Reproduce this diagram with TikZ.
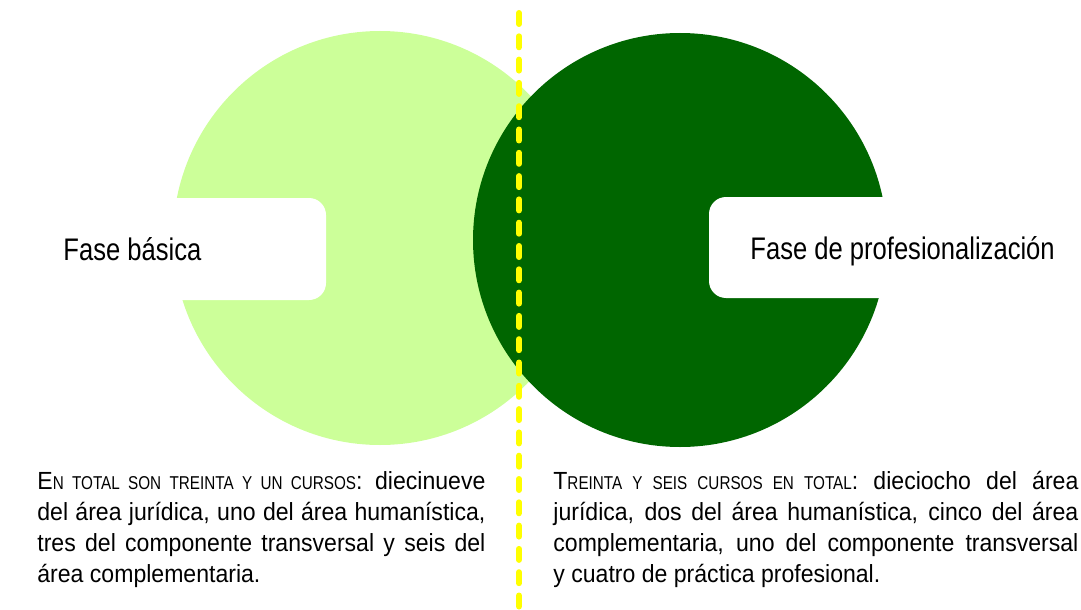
\documentclass[tikz,border=0pt]{standalone}
\usepackage{fontspec}
\setmainfont[FakeStretch=0.82]{Liberation Sans}
\newfontfamily\cuerpofont[FakeStretch=0.93]{Liberation Sans}
\usepackage{tikz}
\definecolor{verdeclaro}{HTML}{CCFF99}
\definecolor{verdeoscuro}{HTML}{006600}
\definecolor{amarillo}{HTML}{FFFF00}
\newcommand\versal[2]{#1{\rmfamily\fontsize{9.3}{15.5}\selectfont #2}}
\tikzset{
	fase/.style={circle, minimum size=207pt, inner sep=0pt},
	muesca/.style={fill=white, rounded corners=8.5pt},
	titulo/.style={anchor=base west, inner sep=0pt, font=\fontsize{15.6}{18}\selectfont},
	cuerpo/.style={anchor=north west, inner sep=0pt, align=justify, font=\cuerpofont\fontsize{12.4}{15.5}\selectfont}
}

\begin{document}
\begin{tikzpicture}[x=0.5pt, y=-0.5pt]
			%%%%% START %%%%%
			\useasboundingbox (0, 0) rectangle (1081, 610);
			
			\node[fase, fill=verdeclaro] (basica) at (380, 238) {};
			\fill[muesca] (140, 198) rectangle (326, 300);
			
			\node[fase, fill=verdeoscuro] (profesional) at (680, 240) {};
			\fill[muesca] (709, 197) rectangle (920, 298);
			
			\coordinate (arriba) at (519, 13);
			\coordinate (abajo) at (519, 612);
			\draw[amarillo, line width=3pt, line cap=round, dash pattern=on 5.5pt off 6.15pt] (arriba) -- (abajo);
			
			\node[titulo] (tbasica) at (63, 260) {Fase básica};
			\node[titulo] (tprofesional) at (750, 259) {Fase de profesionalización};
			
			\node[cuerpo, text width=224pt] (cbasica) at (37, 471) {\versal{E}{N TOTAL SON TREINTA Y UN CURSOS}: diecinueve\linebreak
				del área jurídica, uno del área humanística,\linebreak
				tres del componente transversal y seis del\linebreak
				área complementaria.};
			\node[cuerpo, text width=262.5pt] (cprofesional) at (553, 471) {\versal{T}{REINTA Y SEIS CURSOS EN TOTAL}: dieciocho del área\linebreak
				jurídica, dos del área humanística, cinco del área\linebreak
				complementaria, uno del componente transversal\linebreak
				y cuatro de práctica profesional.};
			%%%%% END %%%%%
		\end{tikzpicture}
\end{document}
